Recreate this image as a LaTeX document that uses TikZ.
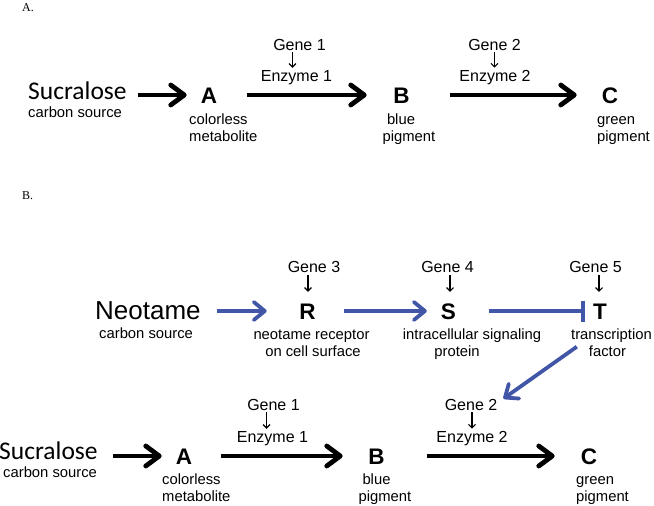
\documentclass[tikz,border=0pt]{standalone}
\usepackage{fontspec}
\setmainfont{Liberation Sans}
\newfontfamily\carl{Carlito}
\newfontfamily\tms{Liberation Serif}
\usetikzlibrary{arrows.meta,calc}
\definecolor{sigblue}{RGB}{66,86,168}
\tikzset{
  lbl/.style={inner sep=0pt, anchor=base west, font=\fontsize{14.8}{17}\selectfont},
  lblc/.style={inner sep=0pt, anchor=base, font=\fontsize{14.8}{17}\selectfont},
  gene/.style={inner sep=0pt, anchor=base, font=\fontsize{16}{19}\selectfont},
  letter/.style={inner sep=0pt, anchor=base, font=\fontsize{22.5}{22}\selectfont\bfseries, text height=16pt, text depth=0pt},
  big/.style={inner sep=0pt, anchor=base west, font=\fontsize{26}{30}\selectfont},
  suc/.style={inner sep=0pt, anchor=base west, font=\carl\fontsize{25.5}{30}\selectfont},
  panel/.style={inner sep=0pt, anchor=base west, font=\tms\fontsize{12}{14}\selectfont},
  blk/.style={draw=black, line width=4.8pt, line join=round, -{Straight Barb[length=13.5pt,width=20pt,line join=round,line cap=round]}},
  blu/.style={draw=sigblue, line width=3.8pt, line join=round, -{Straight Barb[length=11pt,width=18pt,line join=round,line cap=round]}},
  blubar/.style={draw=sigblue, line width=3.8pt, -{Bar[width=21pt]}},
  thin/.style={draw=black, line width=1.1pt, -{Straight Barb[length=3.5pt,width=7pt]}}
}
\begin{document}
\begin{tikzpicture}[x=1pt,y=-1pt]
\useasboundingbox (0,0) rectangle (654,506);
% ---------- Panel A ----------
\node[panel] (pA) at (22,12) {A.};
\node[suc] (Suc1) at (28,99) {Sucralose};
\node[lbl] (cs1) at (28,117) {carbon source};
\node[letter] (A1) at (209,103) {A};
\node[lbl] (a1l1) at (189,124) {colorless};
\node[lbl] (a1l2) at (189,141) {metabolite};
\node[gene] (G1u) at (299.5,50) {Gene 1};
\node[gene] (E1u) at (296.5,81) {Enzyme 1};
\node[letter] (B1) at (401.5,103) {B};
\node[lblc] (b1l1) at (401,124) {blue};
\node[lblc] (b1l2) at (409,141) {pigment};
\node[gene] (G2u) at (494.5,50) {Gene 2};
\node[gene] (E2u) at (495,81) {Enzyme 2};
\node[letter] (C1) at (610,103) {C};
\node[lbl] (c1l1) at (597,124) {green};
\node[lbl] (c1l2) at (597,141) {pigment};

\draw[blk, shorten <=11pt, shorten >=14pt] (A1.west -| Suc1.east) -- (A1.west);
\draw[blk, shorten <=30pt, shorten >=26.5pt] (A1.east) -- (B1.west);
\draw[blk, shorten <=40.5pt, shorten >=25pt] (B1.east) -- (C1.west);
\draw[thin] ($(G1u.south)+(-7,2)$) -- ($(G1u.south |- E1u.north)+(-7,-2)$);
\draw[thin] ($(G2u.south)+(0,2)$) -- ($(G2u.south |- E2u.north)+(0,-2)$);

% ---------- Panel B ----------
\node[panel] (pB) at (22,199) {B.};
\node[big] (Neo) at (95,319) {Neotame};
\node[lbl] (cs2) at (99,338) {carbon source};
\node[letter] (R) at (307.5,319) {R};
\node[gene] (G3) at (314,272) {Gene 3};
\node[lblc] (r1) at (311.5,339) {neotame receptor};
\node[lblc] (r2) at (313,356) {on cell surface};
\node[letter] (S) at (448.5,319) {S};
\node[gene] (G4) at (447.5,272) {Gene 4};
\node[lblc] (s1) at (472,339) {intracellular signaling};
\node[lblc] (s2) at (457,356) {protein};
\node[letter] (T) at (600,319) {T};
\node[gene] (G5) at (595.5,272) {Gene 5};
\node[lblc] (t1) at (611.5,339) {transcription};
\node[lblc] (t2) at (607.5,356) {factor};

\draw[blu, shorten <=16.5pt, shorten >=32.5pt] (R.west -| Neo.east) -- (R.west);
\draw[blu, shorten <=28.5pt, shorten >=14pt] (R.east) -- (S.west);
\draw[blubar, shorten <=33pt, shorten >=8.3pt] (S.east) -- (T.west);
\draw[thin] ($(G3.south)+(-6,3)$) -- ($(G3.south |- R.north)+(-6,-11)$);
\draw[thin] ($(G4.south)+(2.5,3)$) -- ($(G4.south |- S.north)+(2.5,-11)$);
\draw[thin] ($(G5.south)+(3.5,3)$) -- ($(G5.south |- T.north)+(3.5,-11)$);

\node[suc] (Suc2) at (-1,459) {Sucralose};
\node[lbl] (cs3) at (3,477) {carbon source};
\node[letter] (A2) at (184,464) {A};
\node[lbl] (a2l1) at (162,484) {colorless};
\node[lbl] (a2l2) at (162,501) {metabolite};
\node[gene] (G1l) at (273.5,410) {Gene 1};
\node[gene] (E1l) at (272.5,442) {Enzyme 1};
\node[letter] (B2) at (376.5,464) {B};
\node[lblc] (b2l1) at (376.5,484) {blue};
\node[lblc] (b2l2) at (385,501) {pigment};
\node[gene] (G2l) at (471,410) {Gene 2};
\node[gene] (E2l) at (472,442) {Enzyme 2};
\node[letter] (C2) at (589,464) {C};
\node[lbl] (c2l1) at (576,484) {green};
\node[lbl] (c2l2) at (576,501) {pigment};

\draw[blk, shorten <=15pt, shorten >=14pt] (A2.west -| Suc2.east) -- (A2.west);
\draw[blk, shorten <=29pt, shorten >=25.5pt] (A2.east) -- (B2.west);
\draw[blk, shorten <=42.5pt, shorten >=26pt] (B2.east) -- (C2.west);
\draw[thin] ($(G1l.south)+(-7,2)$) -- ($(G1l.south |- E1l.north)+(-7,-2)$);
\draw[thin] ($(G2l.south)+(1,2)$) -- ($(G2l.south |- E2l.north)+(1,-2)$);

\draw[blu] ($(t2.west)+(-12,-4)$) -- ($(G2l.north east)+(6,0)$);
\end{tikzpicture}
\end{document}
